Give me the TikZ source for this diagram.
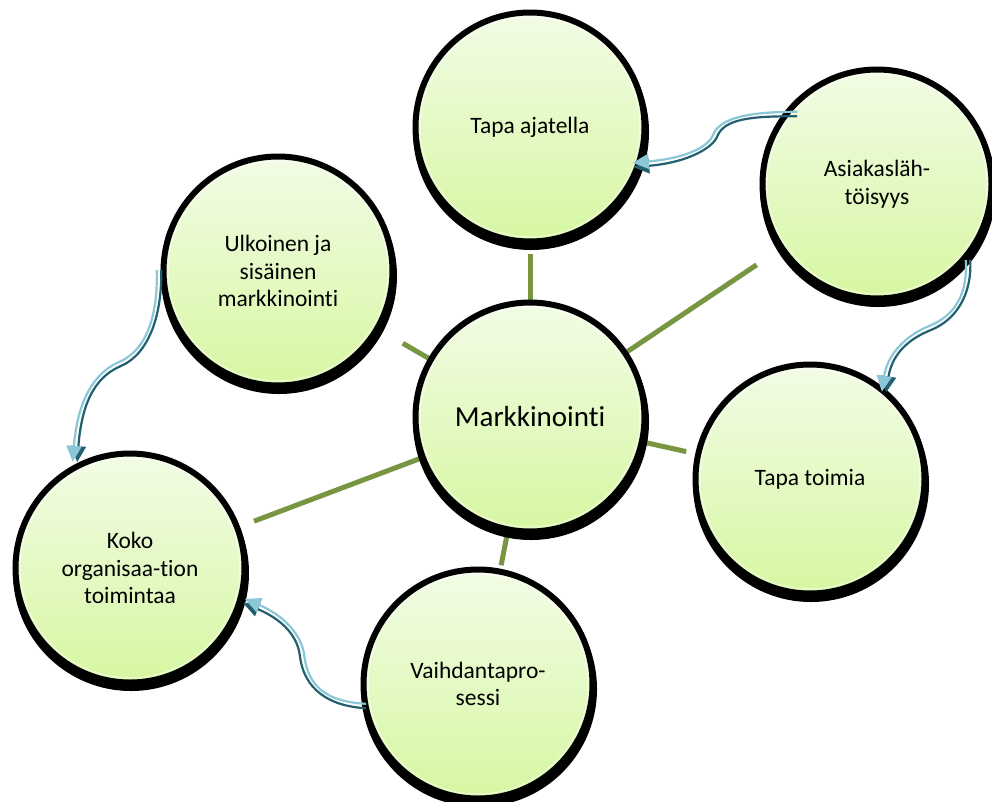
\documentclass[tikz,border=0pt]{standalone}
\usepackage{fontspec}
\setmainfont{Carlito}[Ligatures=NoCommon]
\usetikzlibrary{calc,backgrounds,arrows.meta}

\definecolor{discTop}{RGB}{242,252,230}
\definecolor{discBottom}{RGB}{214,247,162}
\definecolor{spoke}{RGB}{120,150,66}
\definecolor{ribbonLight}{RGB}{140,199,215}
\definecolor{ribbonDark}{RGB}{35,96,111}

\tikzset{
  topic/.style={circle, minimum size=229pt, inner sep=0pt, draw=black, line width=6pt,
    top color=discTop, bottom color=discBottom, align=center, text=black,
    font=\fontsize{23.5}{27.5}\selectfont},
  hub/.style={topic, font=\fontsize{29}{34}\selectfont},
  spokeline/.style={draw=spoke, line width=5pt},
  shadowdisc/.style={fill=black},
  innerglow/.style={draw=white, opacity=0.45, line width=1.5pt},
  ribbondark/.style={draw=ribbonDark, line width=2.2pt, -{Triangle[length=16pt,width=15pt]}},
  ribbonlight/.style={draw=ribbonLight, line width=2.2pt, -{Triangle[length=16pt,width=15pt]}},
}

% One side of a two-tone curved arrow: the two-segment Bezier through
% #4a (#4b,#4c) #4d (#4e,#4f) #4g, shifted sideways by a small gap.
\newcommand{\ribbonside}[4]{%
  \draw[#1] ($(#4a)!2.2pt!#2:(#4b)$)
    .. controls ($(#4b)!2.2pt!#3:(#4a)$) and ($(#4c)!2.2pt!#2:(#4d)$)
    .. ($(#4d)!2.2pt!#3:(#4c)$)
    .. controls ($(#4e)!2.2pt!#3:(#4d)$) and ($(#4f)!2.2pt!#2:(#4g)$)
    .. ($(#4g)!2.2pt!#3:(#4f)$);%
}

\begin{document}
\begin{tikzpicture}[x=1pt,y=-1pt]
\useasboundingbox (0,0) rectangle (992,801);

% topics
\node[hub]   (m)    at (530,417) {Markkinointi};
\node[topic] (tapa) at (530,127) {Tapa ajatella};
\node[topic] (asia) at (877,184) {Asiakasläh-\\töisyys};
\node[topic] (ulko) at (278,271) {Ulkoinen ja\\sisäinen\\markkinointi};
\node[topic] (toim) at (810,479) {Tapa toimia};
\node[topic] (koko) at (130,568) {Koko\\organisaa-tion\\toimintaa};
\node[topic] (vaih) at (478,684) {Vaihdantapro-\\sessi};

\foreach \n in {m,tapa,asia,ulko,toim,koko,vaih}
  \draw[innerglow] (\n.center) circle (110pt);

\begin{scope}[on background layer]
  \fill[white] (0,0) rectangle (992,801);
  % spokes from the hub towards each topic
  \draw[spokeline] (m.center) -- ($(m.center)!163pt!(tapa.center)$);
  \draw[spokeline] (m.center) -- ($(m.center)!273pt!(asia.center)$);
  \draw[spokeline] (m.center) -- ($(m.center)!160pt!(toim.center)$);
  \draw[spokeline] (m.center) -- ($(m.center)!151pt!(vaih.center)$);
  \draw[spokeline] (m.center) -- ($(m.center)!295pt!(koko.center)$);
  \draw[spokeline] (m.center) -- ($(m.center)!147pt!(ulko.center)$);
  % drop shadows
  \foreach \n in {m,tapa,asia,ulko,toim,koko,vaih}
    \fill[shadowdisc] ($(\n.center)+(1,5)$) circle (118pt);
\end{scope}

% curved arrows: start, controls, middle, controls, end
\coordinate (Aa) at ($(asia.center)+(-80,-70)$);
\coordinate (Ab) at (750,114);
\coordinate (Ac) at (722,118);
\coordinate (Ad) at (715,136);
\coordinate (Ae) at (711,146);
\coordinate (Af) at (690,160);
\coordinate (Ag) at ($(tapa.center)+(103,38)$);

\coordinate (Ba) at ($(asia.center)+(91,76)$);
\coordinate (Bb) at (970,295);
\coordinate (Bc) at (955,318);
\coordinate (Bd) at (930,328);
\coordinate (Be) at (910,336);
\coordinate (Bf) at (890,352);
\coordinate (Bg) at ($(toim.center)+(74,-87)$);

\coordinate (Ca) at ($(ulko.center)+(-119,-1)$);
\coordinate (Cb) at (160,315);
\coordinate (Cc) at (148,352);
\coordinate (Cd) at (120,364);
\coordinate (Ce) at (99,373);
\coordinate (Cf) at (80,395);
\coordinate (Cg) at ($(koko.center)+(-55,-106)$);

\coordinate (Da) at ($(vaih.center)+(-112,22)$);
\coordinate (Db) at (330,704);
\coordinate (Dc) at (306,690);
\coordinate (Dd) at (302,655);
\coordinate (De) at (299,633);
\coordinate (Df) at (280,616);
\coordinate (Dg) at ($(koko.center)+(114,33)$);

\ribbonside{ribbondark}{90}{-90}{A}
\ribbonside{ribbonlight}{-90}{90}{A}
\ribbonside{ribbondark}{90}{-90}{B}
\ribbonside{ribbonlight}{-90}{90}{B}
\ribbonside{ribbondark}{90}{-90}{C}
\ribbonside{ribbonlight}{-90}{90}{C}
\ribbonside{ribbondark}{90}{-90}{D}
\ribbonside{ribbonlight}{-90}{90}{D}
\end{tikzpicture}
\end{document}
